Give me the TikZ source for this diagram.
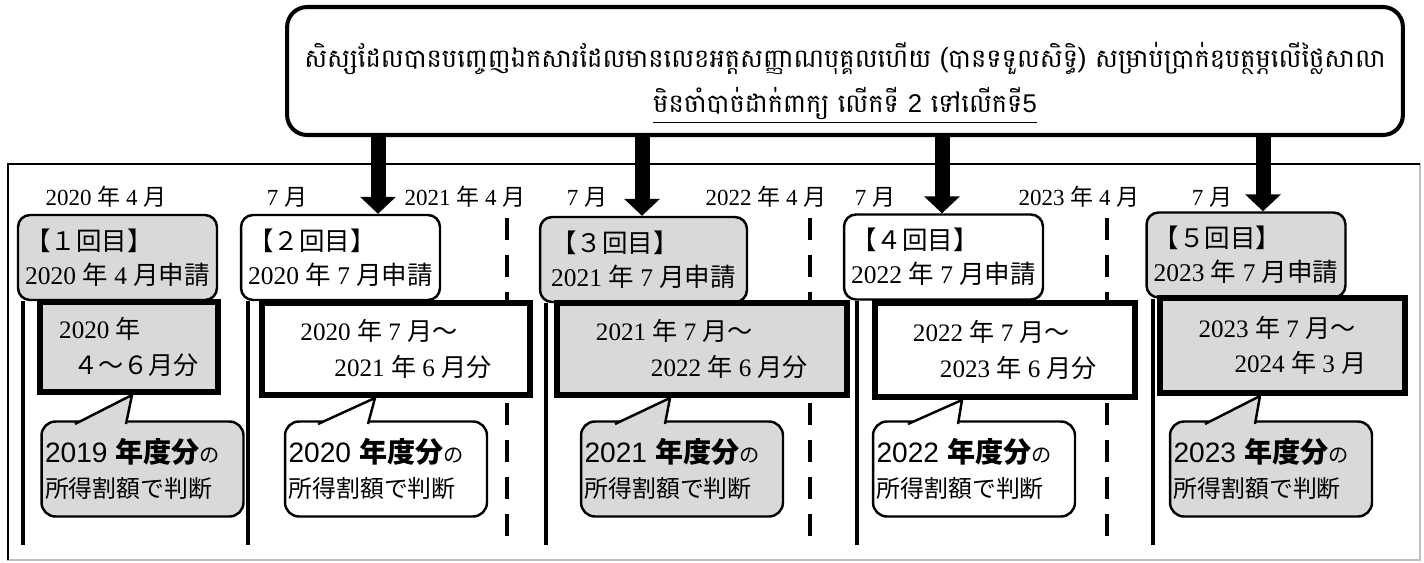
\documentclass[tikz,border=0pt]{standalone}
\usepackage{fontspec}
\setmainfont{Liberation Serif}
\setsansfont{Liberation Sans}
\newfontfamily\jpfont{Noto Sans CJK JP}
\newfontfamily\khfont[Script=Khmer]{Battambang}
\usetikzlibrary{arrows.meta}
\definecolor{shade}{HTML}{D9D9D9}
\newcommand{\jp}[1]{{\jpfont #1}}
\newcommand{\jpb}[1]{{\jpfont\bfseries #1}}
\newdimen\pxu \pxu=0.02cm
\newcommand{\ind}[1]{\hspace*{#1\pxu}}
\newcommand{\nendo}[1]{{\fontsize{16}{20}\selectfont\sffamily #1 \jpb{年度分}}{\fontsize{11.5}{14}\selectfont\jp{の}}\\{\fontsize{13.6}{20}\selectfont\jp{所得割額で判断}}}

\tikzset{
  topbox/.style={draw, line width=2.3pt, rounded corners=0.4cm, fill=white, minimum width=22.32cm, minimum height=2.56cm},
  toptext/.style={align=center, inner sep=0pt, font=\khfont\fontsize{14.6}{25.5}\selectfont},
  appbox/.style={draw, line width=1.4pt, rounded corners=0.24cm, minimum width=3.98cm, minimum height=1.7cm, align=left, inner sep=0pt, font=\fontsize{14.5}{19.4}\selectfont},
  periodbox/.style={draw, line width=3.4pt, minimum height=1.84cm, align=left, inner sep=0pt, font=\fontsize{14.3}{20}\selectfont},
  bubble/.style={draw, line width=1.4pt, rounded corners=0.28cm, minimum width=4.04cm, minimum height=1.9cm, text width=3.9cm, align=left, inner xsep=0.07cm, inner ysep=0pt, font=\fontsize{13.6}{20}\selectfont},
  pointer/.style={line width=1.4pt, line join=miter},
  datelabel/.style={inner sep=0pt, font=\fontsize{13.1}{15}\selectfont},
  startline/.style={line width=2.6pt},
  aprline/.style={line width=2.8pt, dash pattern=on 0.44cm off 0.3cm},
  bigarrow/.style={line width=0.3cm, -{Triangle[width=0.7cm, length=0.34cm]}},
}

\begin{document}
\begin{tikzpicture}[x=0.02cm, y=-0.02cm]
    \useasboundingbox (0,0) rectangle (1424,562);

    % Frame
    \draw[black!25, line width=0.8pt] (8,164) rectangle (1420,560);
    \draw[line width=0.8pt] (8,560) -- (8,164) -- (1420,164);

    % April lines
    \draw[aprline] (507,218) -- (507,537);
    \draw[aprline] (810,218) -- (810,537);
    \draw[aprline] (1107,218) -- (1107,537);

    % Month labels
    \node[datelabel] (apr20) at (106,197) {2020 \jp{年} 4 \jp{月}};
    \node[datelabel] (jul20) at (287,197) {7 \jp{月}};
    \node[datelabel] (apr21) at (465,197) {2021 \jp{年} 4 \jp{月}};
    \node[datelabel] (jul21) at (587,197) {7 \jp{月}};
    \node[datelabel] (apr22) at (766,197) {2022 \jp{年} 4 \jp{月}};
    \node[datelabel] (jul22) at (875,197) {7 \jp{月}};
    \node[datelabel] (apr23) at (1079,197) {2023 \jp{年} 4 \jp{月}};
    \node[datelabel] (jul23) at (1212,197) {7 \jp{月}};

    % Applications
    \node[appbox, fill=shade] (app1) at (117.5,257.5) {\jp{【１回目】}\\2020 \jp{年} 4 \jp{月申請}};
    \node[appbox, fill=white] (app2) at (340.5,257.5) {\jp{【２回目】}\\2020 \jp{年} 7 \jp{月申請}};
    \node[appbox, fill=shade, minimum width=4.14cm] (app3) at (643.5,259.5) {\jp{【３回目】}\\2021 \jp{年} 7 \jp{月申請}};
    \node[appbox, fill=white] (app4) at (943.5,257) {\jp{【４回目】}\\2022 \jp{年} 7 \jp{月申請}};
    \node[appbox, fill=shade] (app5) at (1246,255) {\jp{【５回目】}\\2023 \jp{年} 7 \jp{月申請}};

    % Start lines
    \draw[startline] (app1.south -| 23,0) -- (23,545);
    \draw[startline] (app2.south -| 248,0) -- (248,545);
    \draw[startline] (app3.south -| 546,0) -- (546,545);
    \draw[startline] (app4.south -| 857,0) -- (857,545);
    \draw[startline] (app5.south -| 1153,0) -- (1153,545);

    % Periods
    \node[periodbox, fill=shade, minimum width=3.56cm, minimum height=1.8cm] (per1) at (129,347) {2020 \jp{年}\\\ind{14}\jp{４～６月分}};
    \node[periodbox, fill=white, minimum width=5.36cm] (per2) at (396,349) {2020 \jp{年} 7 \jp{月～}\\\ind{34}2021 \jp{年} 6 \jp{月分}};
    \node[periodbox, fill=shade, minimum width=5.8cm] (per3) at (702,349) {2021 \jp{年} 7 \jp{月～}\\\ind{55}2022 \jp{年} 6 \jp{月分}};
    \node[periodbox, fill=white, minimum width=5.2cm, minimum height=1.88cm] (per4) at (1005,350) {2022 \jp{年} 7 \jp{月～}\\\ind{27}2023 \jp{年} 6 \jp{月分}};
    \node[periodbox, fill=shade, minimum width=4.9cm, minimum height=1.9cm] (per5) at (1282.5,345.5) {2023 \jp{年} 7 \jp{月～}\\\ind{36}2024 \jp{年} 3 \jp{月}};

    % Income years
    \node[bubble, fill=shade] (inc1) at (142.5,469) {\nendo{2019}};
    \node[bubble, fill=white] (inc2) at (386,469) {\nendo{2020}};
    \node[bubble, fill=shade] (inc3) at (682,469) {\nendo{2021}};
    \node[bubble, fill=white] (inc4) at (974,469) {\nendo{2022}};
    \node[bubble, fill=shade] (inc5) at (1271,469) {\nendo{2023}};
    \filldraw[pointer, fill=shade] (75,424) -- (per1.south -| 132,0) -- (126,424);
    \filldraw[pointer, fill=white] (318,424) -- (per2.south -| 375,0) -- (368,424);
    \filldraw[pointer, fill=shade] (615,424) -- (per3.south -| 670,0) -- (665,424);
    \filldraw[pointer, fill=white] (908,424) -- (per4.south -| 962,0) -- (958,424);
    \filldraw[pointer, fill=shade] (1205,424) -- (per5.south -| 1260,0) -- (1255,424);

    % Notice
    \node[topbox] (notice) at (845,71) {};
    \node[toptext] (noticetext) at ([yshift=-0.24cm]notice.center) {សិស្សដែលបានបញ្ចេញឯកសារដែលមានលេខអត្តសញ្ញាណបុគ្គលហើយ (បានទទួលសិទ្ធិ) សម្រាប់ប្រាក់ឧបត្ថម្ភលើថ្លៃសាលា\\\underline{មិនចាំបាច់ដាក់ពាក្យ លើកទី {\sffamily 2} ទៅលើកទី{\sffamily 5}}};

    % Arrows
    \draw[bigarrow] (notice.south -| 378,0) -- (app2.north -| 378,0);
    \draw[bigarrow] (notice.south -| 642,0) -- (app3.north -| 642,0);
    \draw[bigarrow] (notice.south -| 942,0) -- (app4.north -| 942,0);
    \draw[bigarrow] (notice.south -| 1263,0) -- (app5.north -| 1263,0);
\end{tikzpicture}
\end{document}
